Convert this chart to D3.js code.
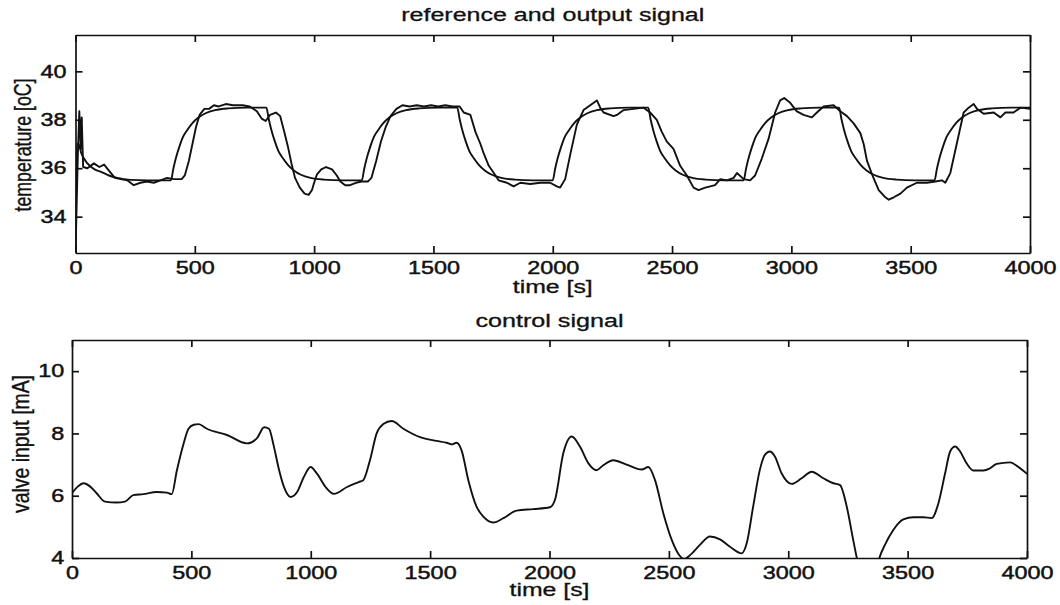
<!DOCTYPE html>
<html>
<head>
<meta charset="utf-8">
<script src="https://cdn.jsdelivr.net/npm/d3@7"></script>
<style>
  body { margin: 0; background: #fff; }
  svg { display: block; font-family: 'Liberation Sans', Arial, Helvetica, sans-serif; }
  .axis path, .axis line { stroke: #111; stroke-width: 1.7; }
  .axis text { font-size: 18px; fill: #111; stroke: #111; stroke-width: 0.45; }
  .label { font-size: 18px; fill: #111; stroke: #111; stroke-width: 0.3; }
  .curve { fill: none; stroke: #111; stroke-width: 1.9; stroke-linejoin: round; }
</style>
</head>
<body>
<svg id="chart" width="1060" height="605"></svg>
<script>
const timeTicks = [0, 500, 1000, 1500, 2000, 2500, 3000, 3500, 4000]
const tempTicks = [34, 36, 38, 40]
const valveTicks = [4, 6, 8, 10]

// reference temperature (smooth first order response), [time s, degC]
const referenceSignal = [
  [0, 32.5], [6, 37.0], [12, 37.0], [25, 36.6], [50, 36.2], [80, 35.95], [105, 35.86], [140, 35.7],
  [175, 35.6], [230, 35.52], [300, 35.5], [400, 35.5],
  [410, 35.98], [420, 36.39], [435, 36.88], [450, 37.28], [470, 37.6], [490, 37.86], [515, 38.09],
  [545, 38.27], [585, 38.4], [640, 38.47], [720, 38.5], [800, 38.5],
  [810, 38.02], [820, 37.61], [835, 37.12], [850, 36.72], [870, 36.4], [890, 36.14], [915, 35.91],
  [945, 35.73], [985, 35.6], [1040, 35.53], [1120, 35.5], [1200, 35.5],
  [1210, 35.98], [1220, 36.39], [1235, 36.88], [1250, 37.28], [1270, 37.6], [1290, 37.86], [1315, 38.09],
  [1345, 38.27], [1385, 38.4], [1440, 38.47], [1520, 38.5], [1600, 38.5],
  [1610, 38.02], [1620, 37.61], [1635, 37.12], [1650, 36.72], [1670, 36.4], [1690, 36.14], [1715, 35.91],
  [1745, 35.73], [1785, 35.6], [1840, 35.53], [1920, 35.5], [2000, 35.5],
  [2010, 35.98], [2020, 36.39], [2035, 36.88], [2050, 37.28], [2070, 37.6], [2090, 37.86], [2115, 38.09],
  [2145, 38.27], [2185, 38.4], [2240, 38.47], [2320, 38.5], [2400, 38.5],
  [2410, 38.02], [2420, 37.61], [2435, 37.12], [2450, 36.72], [2470, 36.4], [2490, 36.14], [2515, 35.91],
  [2545, 35.73], [2585, 35.6], [2640, 35.53], [2720, 35.5], [2800, 35.5],
  [2810, 35.98], [2820, 36.39], [2835, 36.88], [2850, 37.28], [2870, 37.6], [2890, 37.86], [2915, 38.09],
  [2945, 38.27], [2985, 38.4], [3040, 38.47], [3120, 38.5], [3200, 38.5],
  [3210, 38.02], [3220, 37.61], [3235, 37.12], [3250, 36.72], [3270, 36.4], [3290, 36.14], [3315, 35.91],
  [3345, 35.73], [3385, 35.6], [3440, 35.53], [3520, 35.5], [3600, 35.5],
  [3610, 35.98], [3620, 36.39], [3635, 36.88], [3650, 37.28], [3670, 37.6], [3690, 37.86], [3715, 38.09],
  [3745, 38.27], [3785, 38.4], [3840, 38.47], [3920, 38.5], [4000, 38.5]
]

// measured output temperature, [time s, degC]
const outputSignal = [
  [0, 32.5], [10, 36.6], [16, 38.35], [22, 36.8], [26, 38.1], [32, 36.05], [50, 36.0], [77, 36.2],
  [100, 36.05], [120, 36.15], [140, 35.9], [165, 35.6], [190, 35.55], [217, 35.5], [244, 35.3],
  [272, 35.4], [300, 35.45], [328, 35.4], [356, 35.5], [384, 35.6], [412, 35.55], [445, 35.55],
  [458, 35.7], [475, 36.3], [490, 37.0], [505, 37.7], [520, 38.2], [540, 38.45], [560, 38.45],
  [580, 38.6], [600, 38.55], [630, 38.65], [660, 38.6], [700, 38.6], [730, 38.55], [760, 38.35],
  [780, 38.05], [797, 37.95], [815, 38.2], [840, 38.3], [858, 38.15], [875, 37.5], [890, 36.9],
  [905, 36.2], [920, 35.6], [940, 35.2], [960, 34.95], [977, 34.9], [991, 35.1], [1000, 35.4],
  [1012, 35.75], [1030, 35.95], [1050, 36.05], [1075, 35.95], [1095, 35.7], [1110, 35.45],
  [1130, 35.3], [1150, 35.3], [1175, 35.4], [1200, 35.45], [1225, 35.45], [1240, 35.6], [1260, 36.3],
  [1280, 37.1], [1300, 37.7], [1320, 38.15], [1345, 38.45], [1370, 38.6], [1400, 38.55], [1430, 38.6],
  [1460, 38.55], [1490, 38.6], [1520, 38.55], [1550, 38.6], [1580, 38.55], [1610, 38.55], [1627, 38.3],
  [1655, 38.2], [1676, 37.5], [1697, 37.0], [1711, 36.6], [1732, 36.1], [1753, 35.8], [1773, 35.5],
  [1808, 35.4], [1836, 35.25], [1864, 35.4], [1906, 35.35], [1948, 35.4], [1989, 35.4], [2017, 35.25],
  [2031, 35.2], [2052, 35.55], [2073, 36.55], [2101, 37.8], [2129, 38.4], [2157, 38.6], [2185, 38.8],
  [2199, 38.5], [2213, 38.3], [2255, 38.15], [2269, 38.2], [2297, 38.4], [2339, 38.45], [2381, 38.5],
  [2408, 38.3], [2436, 38.0], [2457, 37.5], [2478, 37.1], [2506, 36.8], [2534, 36.1], [2562, 35.7],
  [2590, 35.2], [2611, 35.1], [2639, 35.2], [2660, 35.25], [2680, 35.3], [2702, 35.55], [2730, 35.5],
  [2758, 35.6], [2772, 35.8], [2800, 35.55], [2827, 35.5], [2848, 35.7], [2876, 36.4], [2904, 37.2],
  [2932, 38.3], [2953, 38.8], [2970, 38.9], [2995, 38.7], [3023, 38.35], [3051, 38.2], [3086, 38.1],
  [3107, 38.3], [3135, 38.55], [3177, 38.6], [3205, 38.35], [3233, 38.15], [3261, 37.85], [3289, 37.45],
  [3303, 37.0], [3317, 36.3], [3338, 35.75], [3366, 35.1], [3394, 34.8], [3408, 34.7], [3429, 34.8],
  [3457, 34.95], [3484, 35.2], [3526, 35.4], [3568, 35.4], [3603, 35.45], [3631, 35.5], [3645, 35.4],
  [3666, 35.8], [3694, 37.05], [3722, 38.3], [3743, 38.5], [3764, 38.65], [3778, 38.45], [3806, 38.25],
  [3848, 38.3], [3876, 38.1], [3897, 38.3], [3931, 38.3], [3960, 38.5], [4000, 38.45]
]

// valve control signal, [time s, mA]
const controlSignal = [
  [0, 6.08], [25, 6.3], [49, 6.4], [75, 6.3], [103, 6.08], [138, 5.81], [187, 5.78], [222, 5.81],
  [257, 6.02], [299, 6.05], [355, 6.12], [397, 6.1], [418, 6.05], [439, 6.8], [467, 7.66], [488, 8.15],
  [510, 8.28], [530, 8.3], [565, 8.15], [649, 7.95], [733, 7.68], [775, 7.85], [805, 8.2], [825, 8.15],
  [845, 7.6], [865, 6.9], [887, 6.3], [915, 5.96], [943, 6.12], [971, 6.6], [999, 6.92], [1027, 6.7],
  [1062, 6.28], [1097, 6.06], [1152, 6.28], [1201, 6.44], [1220, 6.5], [1248, 7.14], [1276, 8.0],
  [1304, 8.3], [1339, 8.4], [1388, 8.15], [1458, 7.88], [1527, 7.76], [1569, 7.7], [1590, 7.65],
  [1611, 7.7], [1632, 7.45], [1660, 6.5], [1695, 5.64], [1723, 5.33], [1765, 5.14], [1807, 5.28],
  [1862, 5.52], [1932, 5.57], [2002, 5.63], [2023, 5.87], [2058, 7.37], [2093, 7.9], [2128, 7.57],
  [2163, 7.04], [2197, 6.82], [2225, 6.98], [2267, 7.14], [2323, 7.0], [2386, 6.84], [2414, 6.92],
  [2442, 6.5], [2477, 5.43], [2512, 4.58], [2540, 4.13], [2565, 3.97], [2590, 4.1], [2630, 4.42],
  [2672, 4.69], [2714, 4.6], [2756, 4.36], [2805, 4.15], [2826, 4.47], [2853, 5.65], [2881, 6.83],
  [2902, 7.31], [2923, 7.42], [2944, 7.26], [2972, 6.72], [3014, 6.38], [3056, 6.56], [3098, 6.77],
  [3147, 6.56], [3189, 6.4], [3217, 6.34], [3245, 5.65], [3272, 4.58], [3290, 3.9], [3310, 3.3],
  [3340, 3.0], [3365, 3.4], [3380, 3.95], [3405, 4.42], [3440, 4.9], [3482, 5.24], [3524, 5.31],
  [3566, 5.31], [3601, 5.28], [3629, 5.76], [3657, 6.72], [3678, 7.42], [3699, 7.58], [3720, 7.42],
  [3747, 7.04], [3775, 6.81], [3817, 6.81], [3845, 6.88], [3873, 7.02], [3929, 7.07], [3964, 6.92],
  [4000, 6.7]
]

const svg = d3.select('#chart')
const stretch = 'scale(1.3, 1)'

function drawPanel(p) {
  const x = d3.scaleLinear().domain([0, 4000]).range([p.left, p.right])
  const y = d3.scaleLinear().domain(p.yDomain).range([p.bottom, p.top])
  const tick = 7

  svg.append('clipPath').attr('id', p.id + '-clip')
    .append('rect')
    .attr('x', p.left).attr('y', p.top)
    .attr('width', p.right - p.left).attr('height', p.bottom - p.top)

  const line = d3.line().x(d => x(d[0])).y(d => y(d[1]))

  const plot = svg.append('g').attr('clip-path', `url(#${ p.id }-clip)`)
  p.series.forEach(s => {
    plot.append('path')
      .attr('class', 'curve')
      .attr('d', line.curve(s.curve)(s.data))
  })

  // frame with inward ticks on all four sides
  svg.append('g').attr('class', 'axis')
    .attr('transform', `translate(0, ${ p.bottom })`)
    .call(d3.axisBottom(x).tickValues(timeTicks).tickFormat(d3.format('d'))
      .tickSizeInner(-tick).tickSizeOuter(0).tickPadding(8))
  svg.append('g').attr('class', 'axis')
    .attr('transform', `translate(0, ${ p.top })`)
    .call(d3.axisTop(x).tickValues(timeTicks).tickFormat('')
      .tickSizeInner(-tick).tickSizeOuter(0))
  svg.append('g').attr('class', 'axis')
    .attr('transform', `translate(${ p.left }, 0)`)
    .call(d3.axisLeft(y).tickValues(p.yTicks).tickFormat(d3.format('d'))
      .tickSizeInner(-tick).tickSizeOuter(0).tickPadding(p.yPad))
  svg.append('g').attr('class', 'axis')
    .attr('transform', `translate(${ p.right }, 0)`)
    .call(d3.axisRight(y).tickValues(p.yTicks).tickFormat('')
      .tickSizeInner(-tick).tickSizeOuter(0))

  svg.selectAll('.axis text').attr('transform', stretch)

  const cx = (p.left + p.right) / 2
  svg.append('text').attr('class', 'label')
    .attr('text-anchor', 'middle')
    .attr('x', cx).attr('y', p.titleY)
    .attr('textLength', p.titleLength).attr('lengthAdjust', 'spacingAndGlyphs')
    .text(p.title)

  svg.append('text').attr('class', 'label')
    .attr('text-anchor', 'middle')
    .attr('x', cx).attr('y', p.xLabelY)
    .attr('textLength', 80).attr('lengthAdjust', 'spacingAndGlyphs')
    .text('time [s]')

  svg.append('text').attr('class', 'label')
    .attr('text-anchor', 'middle')
    .attr('transform', `translate(${ p.yLabelX }, ${ p.yLabelY }) ${ stretch } rotate(-90)`)
    .attr('textLength', p.yLabelLength).attr('lengthAdjust', 'spacingAndGlyphs')
    .text(p.yLabel)
}

drawPanel({
  id: 'temp',
  left: 75.5, right: 1030, top: 35, bottom: 253,
  yDomain: [32.5, 41.5], yTicks: tempTicks, yPad: 7,
  title: 'reference and output signal', titleY: 21, titleLength: 303,
  xLabelY: 293,
  yLabel: 'temperature [oC]', yLabelX: 31, yLabelY: 145, yLabelLength: 133,
  series: [
    { data: referenceSignal, curve: d3.curveMonotoneX },
    { data: outputSignal, curve: d3.curveLinear }
  ]
})

drawPanel({
  id: 'valve',
  left: 72, right: 1027, top: 340, bottom: 558,
  yDomain: [4, 11], yTicks: valveTicks, yPad: 6,
  title: 'control signal', titleY: 327, titleLength: 148,
  xLabelY: 596,
  yLabel: 'valve input [mA]', yLabelX: 29, yLabelY: 444, yLabelLength: 138,
  series: [
    { data: controlSignal, curve: d3.curveMonotoneX }
  ]
})
</script>
</body>
</html>
